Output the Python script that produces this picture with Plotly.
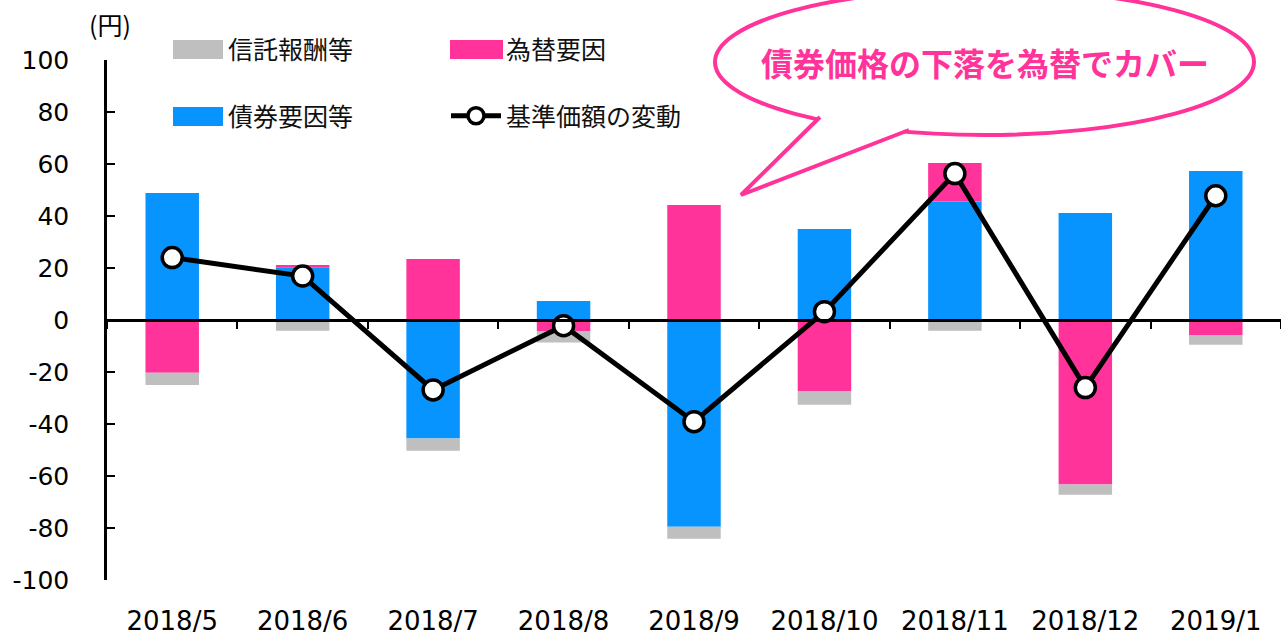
import plotly.graph_objects as go

categories = ["2018/5", "2018/6", "2018/7", "2018/8", "2018/9", "2018/10", "2018/11", "2018/12", "2019/1"]
bond = [48.8, 20.3, -45.6, 7.3, -79.5, 35.0, 45.6, 41.2, 57.3]
fx = [-20.3, 0.9, 23.5, -4.2, 44.2, -27.3, 14.8, -63.3, -5.8]
fee = [-4.7, -4.1, -4.7, -4.5, -4.6, -5.3, -4.1, -3.9, -3.7]
nav_change = [24.0, 16.9, -26.9, -2.2, -39.1, 3.2, 56.3, -26.0, 47.8]
y_ticks = [100, 80, 60, 40, 20, 0, -20, -40, -60, -80, -100]

names = {"fee": "信託報酬等", "fx": "為替要因", "bond": "債券要因等", "nav": "基準価額の変動"}
colors = {"fee": "#BFBFBF", "fx": "#FF3399", "bond": "#0894FF"}
callout_text = "債券価格の下落を為替でカバー"
unit_text = "(円)"

W, H = 1281, 635
ML, MR, MT, MB = 107, 0, 60, 55
PW, PH = W - ML - MR, H - MT - MB


def px(x):
    return (x - ML) / PW


def py(y):
    return (H - MB - y) / PH


CJK = "Noto Sans CJK JP"
LAT = "DejaVu Sans"

fig = go.Figure()

for key, vals in [("bond", bond), ("fx", fx), ("fee", fee)]:
    fig.add_trace(go.Bar(
        x=categories, y=vals, name=names[key], marker=dict(color=colors[key], line=dict(width=0)),
        width=0.41, showlegend=False, legendgroup=key,
    ))

# legend proxies (wide swatches)
fig.add_trace(go.Scatter(x=[None], y=[None], mode="lines", name=names["fee"], legendgroup="fee",
                         line=dict(color=colors["fee"], width=19), legend="legend"))
fig.add_trace(go.Scatter(x=[None], y=[None], mode="lines", name=names["fx"], legendgroup="fx",
                         line=dict(color=colors["fx"], width=19), legend="legend"))
fig.add_trace(go.Scatter(x=[None], y=[None], mode="lines", name=names["bond"], legendgroup="bond",
                         line=dict(color=colors["bond"], width=19), legend="legend2"))

fig.add_trace(go.Scatter(
    x=categories, y=nav_change, name=names["nav"], mode="lines+markers",
    line=dict(color="black", width=5),
    marker=dict(size=20, color="white", line=dict(color="black", width=3.5)),
    legend="legend2",
))

legend_common = dict(
    orientation="h", xanchor="left", yanchor="middle", bgcolor="rgba(0,0,0,0)",
    font=dict(family=CJK, size=25, color="#111"), itemwidth=50,
    entrywidth=213, entrywidthmode="pixels", traceorder="normal",
    itemclick=False, itemdoubleclick=False,
)


def swatch(x0, x1, y0, y1, color):
    return dict(type="rect", xref="paper", yref="paper", x0=px(x0), x1=px(x1), y0=py(y1), y1=py(y0),
                line=dict(width=0), fillcolor=color, layer="above")


fig.update_layout(
    width=W, height=H,
    margin=dict(l=ML, r=MR, t=MT, b=MB, autoexpand=False),
    paper_bgcolor="white", plot_bgcolor="white",
    barmode="relative",
    font=dict(family=LAT, size=26, color="black"),
    legend=dict(x=px(168), y=py(49), **legend_common),
    legend2=dict(x=px(168), y=py(116), **legend_common),
    xaxis=dict(
        type="category", range=[-0.5, len(categories) - 0.5],
        anchor="free", position=0.5, automargin=False,
        showline=True, linecolor="black", linewidth=2.5,
        ticks="outside", tickson="boundaries", ticklen=7, tickwidth=2, tickcolor="black",
        showgrid=False, zeroline=False,
        ticklabelstandoff=277,
        tickfont=dict(family=LAT, size=26, color="black"),
    ),
    yaxis=dict(
        range=[-100, 100], tickvals=y_ticks, ticktext=[str(v) for v in y_ticks],
        automargin=False,
        showline=True, linecolor="black", linewidth=2.5,
        ticks="inside", ticklen=8, tickwidth=2, tickcolor="black",
        showgrid=False, zeroline=False,
        ticklabelstandoff=30,
        tickfont=dict(family=LAT, size=25, color="black"),
    ),
    shapes=[
        dict(type="circle", xref="paper", yref="paper",
             x0=px(715), x1=px(1254), y0=py(135), y1=py(-11),
             line=dict(color="#FF3399", width=4), fillcolor="white", layer="above"),
        dict(type="path", xref="paper", yref="paper",
             path=f"M{px(820)},{py(117)} L{px(741)},{py(195)} L{px(909)},{py(130)}",
             line=dict(color="#FF3399", width=4), fillcolor="white", layer="above"),
        swatch(173, 223, 40, 59, colors["fee"]),
        swatch(450, 503, 40, 59, colors["fx"]),
        swatch(173, 223, 107, 126, colors["bond"]),
    ],
    annotations=[
        dict(text=callout_text, xref="paper", yref="paper", x=px(985), y=py(62),
             xanchor="center", yanchor="middle", showarrow=False,
             font=dict(family=CJK, size=32, color="#FF3399", weight="bold")),
        dict(text=unit_text, xref="paper", yref="paper", x=px(110), y=py(24),
             xanchor="center", yanchor="middle", showarrow=False,
             font=dict(family=CJK, size=25, color="black")),
    ],
)

fig.write_html("out.html", config={"displayModeBar": False},
               post_script="document.body.style.margin='0';document.body.style.overflow='hidden';")
